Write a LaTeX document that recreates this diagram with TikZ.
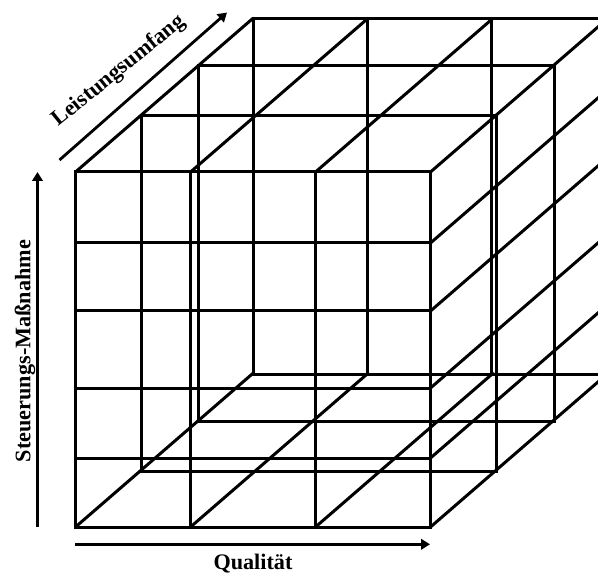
\documentclass[tikz,border=0pt]{standalone}
\usepackage{fontspec}
\setmainfont{Liberation Serif}
\usetikzlibrary{arrows.meta}
\tikzset{
  grid line/.style={line width=3pt,black,line cap=round,line join=miter},
  axis/.style={line width=2.8pt,black,-{Triangle[length=9pt,width=10.5pt]}},
  axis label/.style={font=\bfseries\fontsize{22.2}{26}\selectfont,inner sep=0pt},
}
\begin{document}
\begin{tikzpicture}[x=1pt,y=-1pt]
\useasboundingbox (0,0) rectangle (598,575);
\begin{scope}
\clip (0,0) rectangle (598,575);
% front face
\draw[grid line] (75.5,172) rectangle (430.5,527);
\foreach \y in {243,311,388,458} \draw[grid line] (75.5,\y) -- (430.5,\y);
\foreach \x in {190.5,315.5} \draw[grid line] (\x,172) -- (\x,527);
% depth slices
\draw[grid line] (141.5,115.7) rectangle (496,471.5);
\draw[grid line] (198.7,65.7) rectangle (554.7,421);
% back wall
\draw[grid line] (253,18.3) -- (620,18.3);
\draw[grid line] (253,374) -- (620,374);
\foreach \x in {253,367.5,491.5} \draw[grid line] (\x,18.3) -- (\x,374);
% depth lines from the bottom and top edges
\foreach \x in {75.5,190.5,315.5,430.5} {
  \draw[grid line] (\x,527) -- ++(177.5,-153.7);
  \draw[grid line] (\x,172) -- ++(177.5,-153.7);
}
% depth lines on the right face
\foreach \y in {243,311,388,458} \draw[grid line] (430.5,\y) -- ++(177.5,-153.7);
\end{scope}
% axes
\coordinate (vs) at (37.5,527);
\coordinate (ve) at (37.5,172);
\coordinate (hs) at (75,544.3);
\coordinate (he) at (430,544.3);
\coordinate (ds) at (59.5,160);
\coordinate (de) at (227,12.5);
\draw[axis] (vs) -- (ve);
\draw[axis] (hs) -- (he);
\draw[axis] (ds) -- (de);
\node[axis label,rotate=90] (steuer) at (25,351) {Steuerungs-Maßnahme};
\node[axis label] (qual) at (253,564) {Qualität};
\node[axis label,rotate=39] (leist) at (119,71) {Leistungsumfang};
\end{tikzpicture}
\end{document}
